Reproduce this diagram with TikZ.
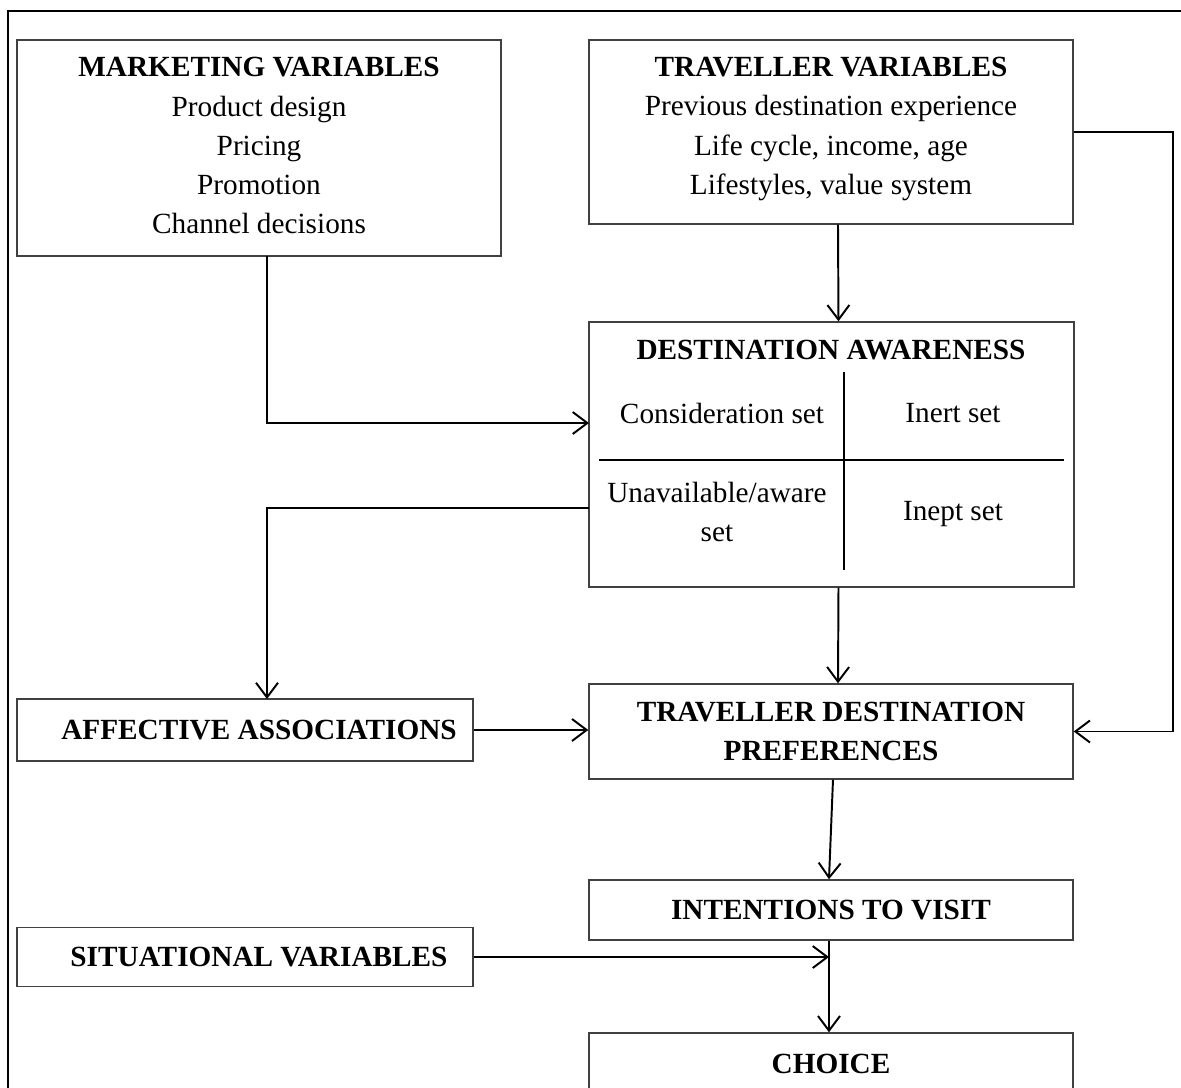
\documentclass[tikz,border=0pt]{standalone}
\usepackage{fontspec}
\setmainfont{Liberation Serif}
\usetikzlibrary{arrows.meta}
\usetikzlibrary{positioning}

\newdimen\pxu
\pxu=0.41pt

\tikzset{
    box/.style={draw=black!75, line width=0.6pt, minimum width=484\pxu, align=center,
        font=\fontsize{12}{16}\selectfont, inner sep=0pt},
    hd/.style={font=\fontsize{12}{16}\selectfont\bfseries, align=center},
    cell/.style={font=\fontsize{12}{16}\selectfont, align=center},
    arr/.style={draw=black, line width=0.8pt, -{Straight Barb[length=6pt,width=9pt]}}
}

\begin{document}
\begin{tikzpicture}[x=0.41pt, y=-0.41pt]
    \useasboundingbox (0,0) rectangle (1181,1088);
    \clip (0,0) rectangle (1181,1088);
    \draw[line width=0.6pt] (8,1120) -- (8,11) -- (1200,11);

    \node[box, minimum height=216\pxu] (mkt) at (259,148) {};
    \node[hd] at (259,67) {MARKETING VARIABLES};
    \node[cell] at (259,165) {Product design\\Pricing\\Promotion\\Channel decisions};

    \node[box, minimum height=184\pxu] (trv) at (831,132) {};
    \node[hd] at (831,67) {TRAVELLER VARIABLES};
    \node[cell] at (831,148) {Previous destination experience\\Life cycle, income, age\\Lifestyles, value system};

    \node[box, minimum width=485\pxu, minimum height=265\pxu] (awr) at (831.5,454.5) {};
    \node[hd] (awrt) at (831,350) {DESTINATION AWARENESS};
    \node[cell] (cons) at (722,413) {Consideration set};
    \node[cell] (inert) at (953,413) {Inert set};
    \node[cell] (unav) at (717,512) {Unavailable/aware\\set};
    \node[cell] (inept) at (953,514) {Inept set};
    \draw[line width=0.8pt] (844,372) -- (844,570);
    \draw[line width=0.8pt] (599,460) -- (1064,460);

    \node[box, font=\fontsize{12}{16}\selectfont\bfseries, minimum width=456\pxu, minimum height=62\pxu] (aff) at (245,730) {\hspace*{28\pxu}AFFECTIVE ASSOCIATIONS};
    \node[box, font=\fontsize{12}{16}\selectfont\bfseries, minimum height=95\pxu] (pref) at (831,731.5) {TRAVELLER DESTINATION\\PREFERENCES};
    \node[box, font=\fontsize{12}{16}\selectfont\bfseries, minimum height=60\pxu] (intn) at (831,910) {INTENTIONS TO VISIT};
    \node[box, font=\fontsize{12}{16}\selectfont\bfseries, minimum width=456\pxu, minimum height=59\pxu] (sit) at (245,957) {\hspace*{28\pxu}SITUATIONAL VARIABLES};
    \node[box, font=\fontsize{12}{16}\selectfont\bfseries, minimum height=62\pxu] (choice) at (831,1064) {CHOICE};

    \coordinate (mktout) at (267,256);
    \coordinate (mktin) at (589,423);
    \coordinate (awrout) at (589,508);
    \coordinate (affin) at (267,699);

    \draw[arr] (mktout) |- (mktin);
    \draw[arr] ([xshift=7\pxu]trv.south) -- ([xshift=7\pxu]awr.north);
    \draw[arr] (trv.east) -- ++(99,0) |- (pref.east);
    \draw[arr] (awrout) -| (affin);
    \draw[arr] ([xshift=7\pxu]awr.south) -- ([xshift=7\pxu]pref.north);
    \draw[arr] (aff.east) -- (aff.east -| pref.west);
    \draw[arr] ([xshift=2\pxu]pref.south) -- ([xshift=-2\pxu]intn.north);
    \draw[arr] ([xshift=-2\pxu]intn.south) -- ([xshift=-2\pxu]choice.north);
    \draw[arr] (sit.east) -- ([xshift=-2\pxu]sit.east -| intn.south);
\end{tikzpicture}
\end{document}
